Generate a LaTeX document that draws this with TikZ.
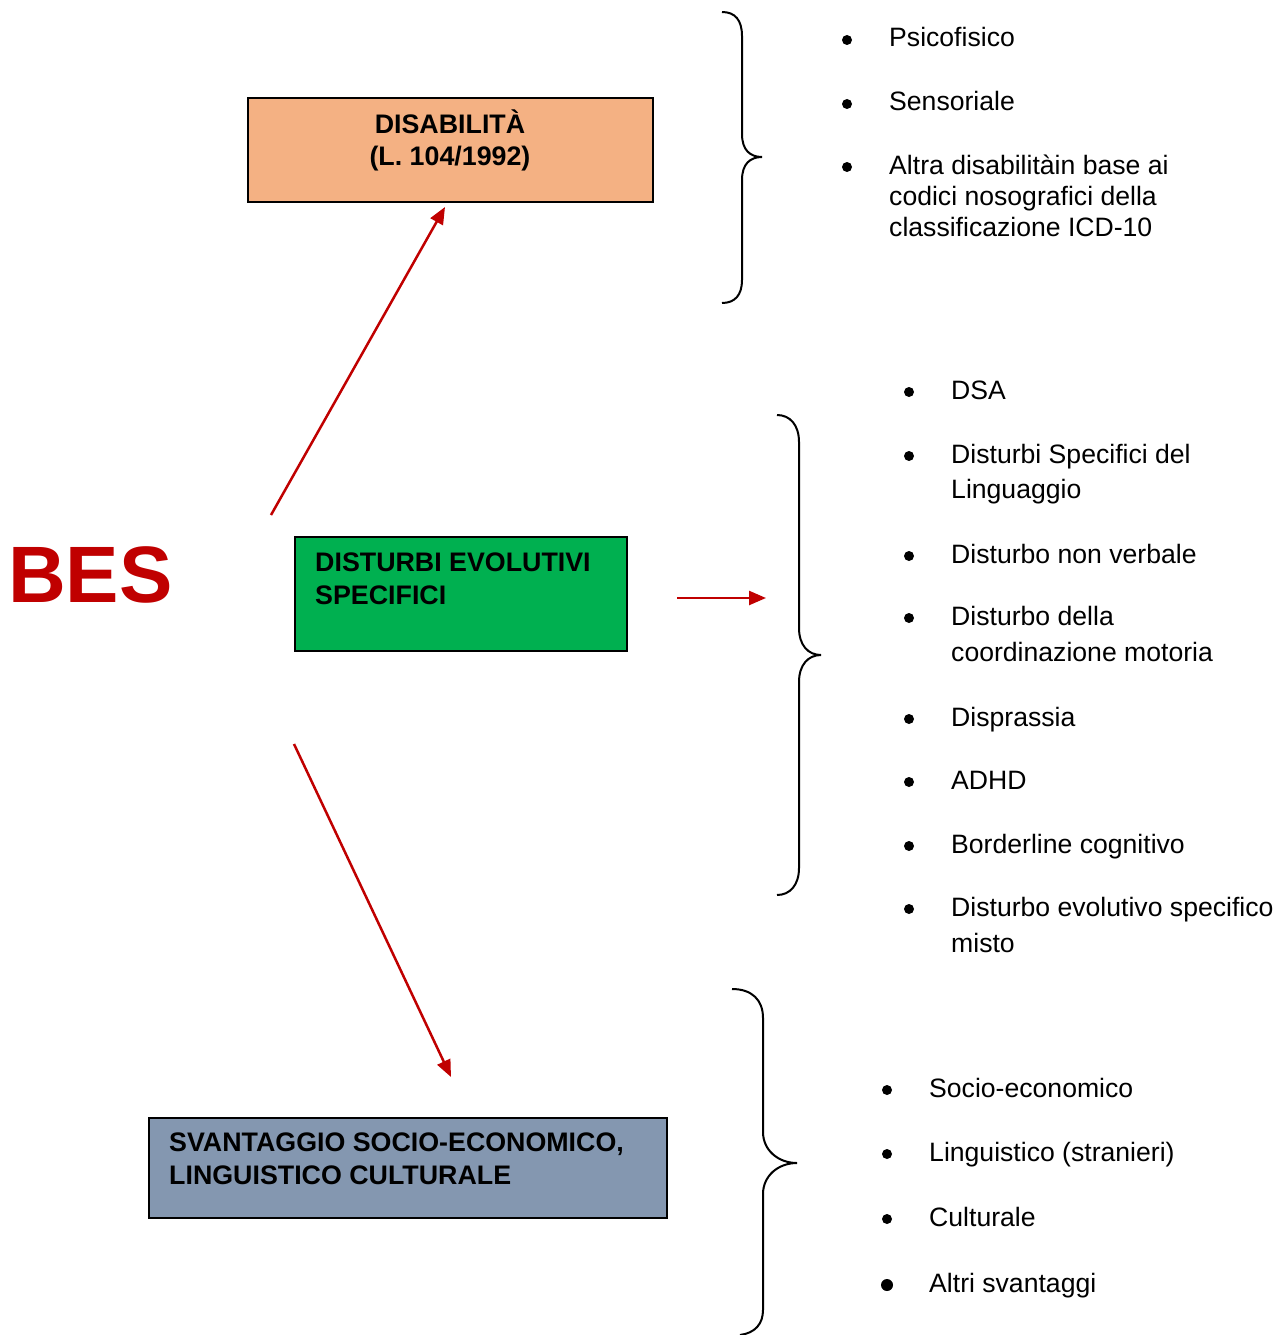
\documentclass[tikz,border=0pt]{standalone}
\usepackage{fontspec}
\setmainfont{Liberation Sans}
\usetikzlibrary{arrows.meta}
\definecolor{bred}{HTML}{C00000}
\definecolor{peach}{HTML}{F4B183}
\definecolor{dgreen}{HTML}{00B050}
\definecolor{slate}{HTML}{8497B0}
\tikzset{
  catbox/.style={draw=black, line width=2pt, inner sep=0pt, anchor=north west},
  redarrow/.style={draw=bred, line width=2.5pt, -{Triangle[length=17pt,width=14pt]}},
  bracepath/.style={draw=black, line width=2pt},
  itemtext/.style={anchor=base west, font=\fontsize{26.6}{30}\selectfont, inner sep=0pt},
  bulletdot/.style={fill=black, circle, inner sep=0pt, minimum size=10pt},
  boxtext/.style={font=\bfseries\fontsize{26.8}{30}\selectfont, inner sep=0pt}
}
\begin{document}
\begin{tikzpicture}[x=1pt,y=-1pt]
\useasboundingbox (0,0) rectangle (1281,1335);
% boxes
\node[catbox, fill=peach, minimum width=405pt, minimum height=104pt] (disbox) at (247,97) {};
\node[boxtext, anchor=base] (dis1) at (450,133) {DISABILITÀ};
\node[boxtext, anchor=base] (dis2) at (450,165) {(L. 104/1992)};
\node[catbox, fill=dgreen, minimum width=332pt, minimum height=114pt] (devbox) at (294,536) {};
\node[boxtext, anchor=base west] (dev1) at (315,571) {DISTURBI EVOLUTIVI};
\node[boxtext, anchor=base west] (dev2) at (315,604) {SPECIFICI};
\node[catbox, fill=slate, minimum width=518pt, minimum height=100pt] (svbox) at (148,1117) {};
\node[boxtext, anchor=base west] (sv1) at (169,1151) {SVANTAGGIO SOCIO-ECONOMICO,};
\node[boxtext, anchor=base west] (sv2) at (169,1184) {LINGUISTICO CULTURALE};
% BES
\node[anchor=base west, inner sep=0pt, text=bred, font=\bfseries\fontsize{80}{84}\selectfont] (bes) at (8,602) {BES};
% arrows
\coordinate (a1s) at (271,515);
\coordinate (a1e) at (445,207);
\coordinate (a2s) at (677,598);
\coordinate (a2e) at (766,598);
\coordinate (a3s) at (294,744);
\coordinate (a3e) at (451,1077);
\draw[redarrow] (a1s) -- (a1e);
\draw[redarrow] (a2s) -- (a2e);
\draw[redarrow] (a3s) -- (a3e);
% braces
\draw[bracepath] (722,12) .. controls (735,12) and (742,20) .. (742,36) -- (742,134)
  .. controls (742,150) and (750,157) .. (762,157)
  .. controls (750,157) and (742,164) .. (742,180) -- (742,280)
  .. controls (742,295) and (735,303) .. (722,303);
\draw[bracepath] (777,415) .. controls (790,415) and (799,425) .. (799,442) -- (799,628)
  .. controls (799,645) and (808,655) .. (821,655)
  .. controls (808,655) and (799,665) .. (799,682) -- (799,868)
  .. controls (799,885) and (790,895) .. (777,895);
\draw[bracepath] (732,989) .. controls (752,989) and (763,1000) .. (763,1018) -- (763,1132)
  .. controls (763,1150) and (778,1163) .. (797,1163)
  .. controls (778,1163) and (763,1176) .. (763,1194) -- (763,1310)
  .. controls (763,1324) and (755,1333) .. (740,1335);
% list 1
\node[bulletdot] (p1) at (847,40) {};
\node[itemtext] (t1) at (889,47) {Psicofisico};
\node[bulletdot] (p2) at (847,104) {};
\node[itemtext] (t2) at (889,111) {Sensoriale};
\node[bulletdot] (p3) at (847,167) {};
\node[itemtext] (t3a) at (889,174) {Altra disabilitàin base ai};
\node[itemtext] (t3b) at (889,205) {codici nosografici della};
\node[itemtext] (t3c) at (889,236) {classificazione ICD-10};
% list 2
\node[bulletdot] (q1) at (909,392) {};
\node[itemtext] (u1) at (951,399) {DSA};
\node[bulletdot] (q2) at (909,456) {};
\node[itemtext] (u2a) at (951,463) {Disturbi Specifici del};
\node[itemtext] (u2b) at (951,498) {Linguaggio};
\node[bulletdot] (q3) at (909,556) {};
\node[itemtext] (u3) at (951,563) {Disturbo non verbale};
\node[bulletdot] (q4) at (909,618) {};
\node[itemtext] (u4a) at (951,625) {Disturbo della};
\node[itemtext] (u4b) at (951,661) {coordinazione motoria};
\node[bulletdot] (q5) at (909,719) {};
\node[itemtext] (u5) at (951,726) {Disprassia};
\node[bulletdot] (q6) at (909,782) {};
\node[itemtext] (u6) at (951,789) {ADHD};
\node[bulletdot] (q7) at (909,846) {};
\node[itemtext] (u7) at (951,853) {Borderline cognitivo};
\node[bulletdot] (q8) at (909,909) {};
\node[itemtext] (u8a) at (951,916) {Disturbo evolutivo specifico};
\node[itemtext] (u8b) at (951,952) {misto};
% list 3
\node[bulletdot] (r1) at (887,1090) {};
\node[itemtext] (v1) at (929,1097) {Socio-economico};
\node[bulletdot] (r2) at (887,1154) {};
\node[itemtext] (v2) at (929,1161) {Linguistico (stranieri)};
\node[bulletdot] (r3) at (887,1219) {};
\node[itemtext] (v3) at (929,1226) {Culturale};
\node[bulletdot, minimum size=12pt] (r4) at (887,1285) {};
\node[itemtext] (v4) at (929,1292) {Altri svantaggi};
\end{tikzpicture}
\end{document}
